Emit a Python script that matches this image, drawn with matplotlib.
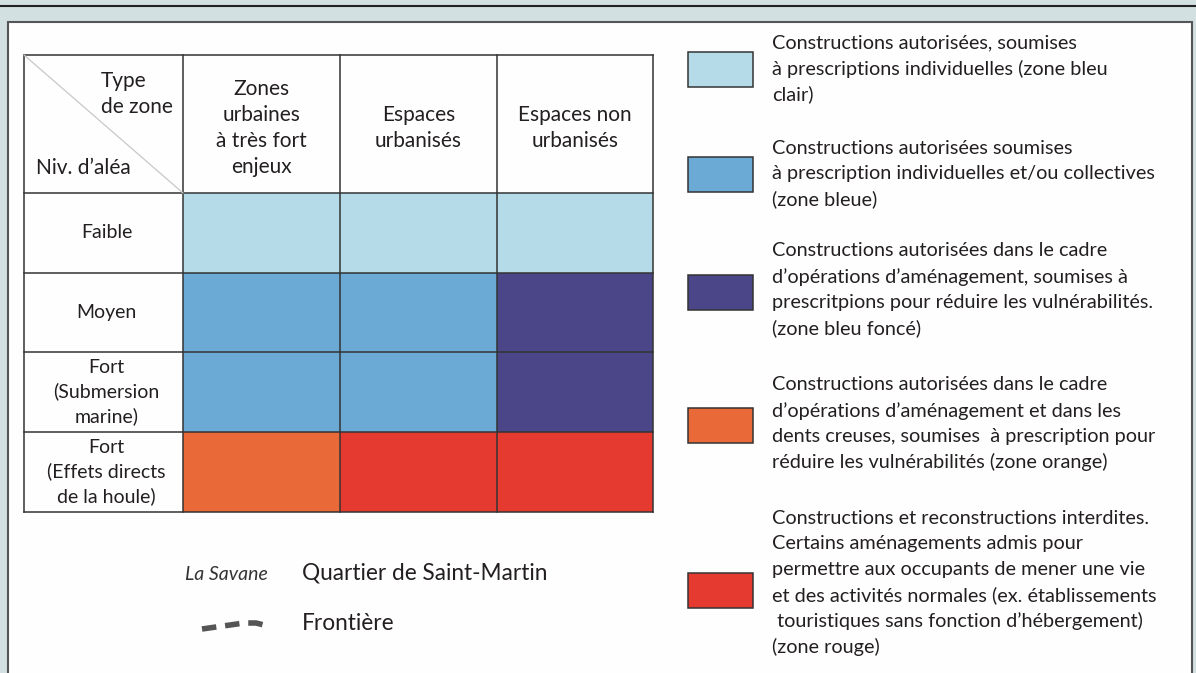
import matplotlib.pyplot as plt
from matplotlib.patches import Rectangle

plt.rcParams['font.family'] = ['Lato', 'DejaVu Sans']

# ------------------------------------------------------------------
# data
# ------------------------------------------------------------------
col_labels = ["Zones\nurbaines\nà très fort\nenjeux",
              "Espaces\nurbanisés",
              "Espaces non\nurbanisés"]
row_labels = ["Faible",
              "Moyen",
              "Fort\n(Submersion\nmarine)",
              "Fort\n(Effets directs\nde la houle)"]

# zone index per cell (row = aléa level, column = zone type)
zone_grid = [[0, 0, 0],
             [1, 1, 2],
             [1, 1, 2],
             [3, 4, 4]]

zone_colors = ["#b5dbe9", "#6aaad5", "#4b4687", "#e96a38", "#e43a30"]

zone_texts = [
    ["Constructions autorisées, soumises",
     "à prescriptions individuelles (zone bleu",
     "clair)"],
    ["Constructions autorisées soumises",
     "à prescription individuelles et/ou collectives",
     "(zone bleue)"],
    ["Constructions autorisées dans le cadre",
     "d’opérations d’aménagement, soumises à",
     "prescritpions pour réduire les vulnérabilités.",
     "(zone bleu foncé)"],
    ["Constructions autorisées dans le cadre",
     "d’opérations d’aménagement et dans les",
     "dents creuses, soumises  à prescription pour",
     "réduire les vulnérabilités (zone orange)"],
    ["Constructions et reconstructions interdites.",
     "Certains aménagements admis pour",
     "permettre aux occupants de mener une vie",
     "et des activités normales (ex. établissements",
     " touristiques sans fonction d’hébergement)",
     "(zone rouge)"],
]

# ------------------------------------------------------------------
# layout (pixels)
# ------------------------------------------------------------------
W, H = 1196, 673
TXT = "#231f20"
col_x = [24, 183, 340, 497, 653]
row_y = [55, 193, 273, 352, 432, 512]
swatch_y = [52, 157, 275, 408, 573]
text_y0 = [43, 148, 251, 385, 518]
LINE = 25.8

fig = plt.figure(figsize=(W / 100, H / 100), dpi=100)
fig.patch.set_facecolor("#d3e0e2")
ax = fig.add_axes([0, 0, 1, 1])
ax.set_xlim(0, W)
ax.set_ylim(H, 0)
ax.axis("off")

# frame
ax.plot([0, W], [6, 6], color="#222222", lw=1.5)
ax.add_patch(Rectangle((8, 22), 1184, H, facecolor="#fefefe",
                       edgecolor="#555555", lw=1.5))

# table cells
for i, row in enumerate(zone_grid):
    for j, z in enumerate(row):
        ax.add_patch(Rectangle((col_x[j + 1], row_y[i + 1]),
                               col_x[j + 2] - col_x[j + 1],
                               row_y[i + 2] - row_y[i + 1],
                               facecolor=zone_colors[z], edgecolor="none"))

# grid lines
for x in col_x:
    ax.plot([x, x], [row_y[0], row_y[-1]], color="#333333", lw=1.1)
for y in row_y:
    ax.plot([col_x[0], col_x[-1]], [y, y], color="#333333", lw=1.1)
ax.plot([col_x[0], col_x[1]], [row_y[0], row_y[1]], color="#c8c8c8", lw=0.9)

# header texts
ax.text(101, 94, "Type\nde zone", ha="left", va="center", fontsize=15,
        color=TXT, linespacing=1.42, multialignment="left")
ax.text(36, 168, "Niv. d’aléa", ha="left", va="center", fontsize=15,
        color=TXT)
for j, lab in enumerate(col_labels):
    ax.text((col_x[j + 1] + col_x[j + 2]) / 2, (row_y[0] + row_y[1]) / 2 + 4,
            lab, ha="center", va="center", fontsize=15, color=TXT,
            linespacing=1.38)
for i, lab in enumerate(row_labels):
    ax.text((col_x[0] + col_x[1]) / 2 + 3, (row_y[i + 1] + row_y[i + 2]) / 2,
            lab, ha="center", va="center", fontsize=14, color=TXT,
            linespacing=1.42)

# legend of zones
for k, lines in enumerate(zone_texts):
    ax.add_patch(Rectangle((688, swatch_y[k]), 65, 35,
                           facecolor=zone_colors[k], edgecolor="#333333",
                           lw=1.1))
    for n, line in enumerate(lines):
        ax.text(772, text_y0[k] + n * LINE, line, ha="left", va="center",
                fontsize=14.3, color=TXT)

# bottom legend
ax.text(268, 574, "La Savane", ha="right", va="center", fontsize=14,
        style="italic", color="#333333")
ax.text(302, 573, "Quartier de Saint-Martin", ha="left", va="center",
        fontsize=16.3, color=TXT)
bx = [202, 216, 230, 244, 256, 268]
by = [629, 627, 625, 623, 623, 626]
ax.plot(bx, by, color="#555555", lw=4, dashes=(2.6, 1.6))
ax.text(302, 624, "Frontière", ha="left", va="center", fontsize=16.3,
        color=TXT)

fig.savefig("out.png", dpi=100, facecolor=fig.get_facecolor())
